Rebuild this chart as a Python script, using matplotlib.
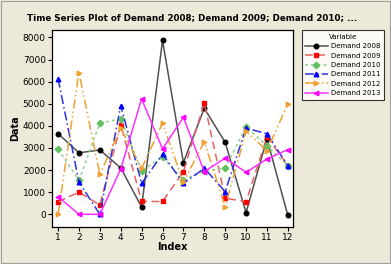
import matplotlib
matplotlib.use("Agg")
import matplotlib.pyplot as plt
import numpy as np

index = np.arange(1, 13)

demand_2008 = [3650, 2780, 2910, 2100, 330, 7860, 2340, 4800, 3250, 80, 3420, -50]
demand_2009 = [570, 1000, 420, 4050, 580, 580, 1930, 5040, 730, 570, 3500, 2200]
demand_2010 = [2940, 1550, 4120, 4320, 1950, 2600, 1550, 1950, 2100, 3950, 3100, 2200]
demand_2011 = [6140, 1460, 0, 4920, 1400, 2720, 1400, 2080, 1030, 3900, 3640, 2200]
demand_2012 = [0, 6410, 1810, 3890, 2080, 4120, 1450, 3290, 350, 3750, 2880, 4990]
demand_2013 = [800, 0, 0, 2050, 5220, 2960, 4380, 1930, 2540, 1900, 2500, 2930]

BG = "#ECE9D8"

fig = plt.figure(figsize=(3.91, 2.64), dpi=100)
fig.patch.set_facecolor(BG)
ax = fig.add_axes([0.133, 0.14, 0.616, 0.746])
ax.set_facecolor("white")

styles = [
    ("Demand 2008", demand_2008, "#505050", "black", "-", "o"),
    ("Demand 2009", demand_2009, "#E86060", "red", (0, (5, 3)), "s"),
    ("Demand 2010", demand_2010, "#90D090", "#60C060", (0, (2, 2)), "D"),
    ("Demand 2011", demand_2011, "#3030E0", "blue", (0, (6, 2, 1, 2)), "^"),
    ("Demand 2012", demand_2012, "#F0A030", "#F0A030", (0, (6, 2, 1, 2, 1, 2)), ">"),
    ("Demand 2013", demand_2013, "#FF30FF", "#FF00FF", "-", "<"),
]

for label, vals, lc, mc, ls, mk in styles:
    ax.plot(index, vals, color=lc, linestyle=ls, lw=1.1, marker=mk, ms=3.3,
            markerfacecolor=mc, markeredgecolor=mc, label=label)

ax.set_xlim(0.71, 12.24)
ax.set_ylim(-575, 8330)
ax.set_xticks(index)
ax.set_yticks(np.arange(0, 8001, 1000))
ax.tick_params(labelsize=6.5, length=3, width=0.8, pad=1.5, colors="black")
for spine in ax.spines.values():
    spine.set_linewidth(0.9)

ax.set_xlabel("Index", fontsize=7, fontweight="bold", labelpad=0)
ax.set_ylabel("Data", fontsize=7, fontweight="bold", labelpad=2)

fig.text(0.069, 0.935, "Time Series Plot of Demand 2008; Demand 2009; Demand 2010; ...",
         fontsize=6.35, fontweight="bold", ha="left", va="center")

leg = fig.legend(loc="upper left", bbox_to_anchor=(0.772, 0.886), title="Variable",
                 fontsize=5.0, title_fontsize=5.0, frameon=True, fancybox=False,
                 edgecolor="black", handlelength=3.2, handletextpad=0.5,
                 borderpad=0.5, labelspacing=0.5, borderaxespad=0)
leg.get_frame().set_linewidth(0.8)

fig.add_artist(plt.Rectangle((0.002, 0.004), 0.995, 0.992, transform=fig.transFigure,
                             fill=False, edgecolor="#A0A0A0", lw=0.8))

fig.savefig("out.png", dpi=100, facecolor=fig.get_facecolor())
